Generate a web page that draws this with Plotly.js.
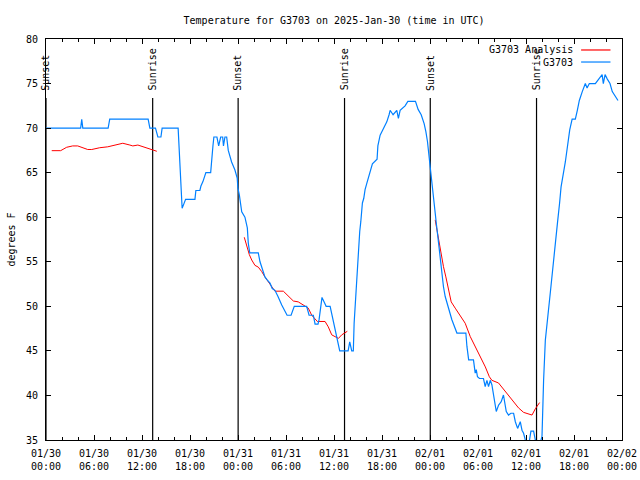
<!DOCTYPE html>
<html>
<head>
<meta charset="utf-8">
<script src="https://cdn.plot.ly/plotly-3.0.1.min.js"></script>
<style>html,body{margin:0;padding:0;background:#fff;}#chart{width:640px;height:480px;}</style>
</head>
<body>
<div id="chart"></div>
<script>
// Observed station temperature (G3703)
const obsTimes = [
"2025-01-30 00:00","2025-01-30 04:20","2025-01-30 04:28","2025-01-30 04:36","2025-01-30 07:46","2025-01-30 07:58",
"2025-01-30 12:46","2025-01-30 12:59","2025-01-30 13:41","2025-01-30 13:59","2025-01-30 14:22","2025-01-30 14:31",
"2025-01-30 16:31","2025-01-30 16:40","2025-01-30 16:52","2025-01-30 17:01","2025-01-30 17:14","2025-01-30 17:27",
"2025-01-30 18:37","2025-01-30 18:44","2025-01-30 19:14","2025-01-30 19:22","2025-01-30 19:37","2025-01-30 19:59",
"2025-01-30 20:35","2025-01-30 20:44","2025-01-30 20:52","2025-01-30 20:59","2025-01-30 21:22","2025-01-30 21:35",
"2025-01-30 21:50","2025-01-30 22:05","2025-01-30 22:11","2025-01-30 22:22","2025-01-30 22:35","2025-01-30 22:47",
"2025-01-30 23:12","2025-01-30 23:37","2025-01-30 23:54","2025-01-30 23:59","2025-01-31 00:10","2025-01-31 00:28",
"2025-01-31 00:52","2025-01-31 01:10","2025-01-31 01:17","2025-01-31 01:28","2025-01-31 02:32","2025-01-31 02:45",
"2025-01-31 03:05","2025-01-31 03:22","2025-01-31 03:37","2025-01-31 04:00","2025-01-31 04:17","2025-01-31 04:37",
"2025-01-31 05:00","2025-01-31 05:28","2025-01-31 06:08","2025-01-31 06:38","2025-01-31 07:02","2025-01-31 08:35",
"2025-01-31 08:53","2025-01-31 09:25","2025-01-31 09:38","2025-01-31 10:00","2025-01-31 10:08","2025-01-31 10:30",
"2025-01-31 10:46","2025-01-31 11:01","2025-01-31 11:31","2025-01-31 11:46","2025-01-31 12:01","2025-01-31 12:16",
"2025-01-31 12:28","2025-01-31 12:43","2025-01-31 13:46","2025-01-31 13:58","2025-01-31 14:13","2025-01-31 14:25",
"2025-01-31 14:31","2025-01-31 14:38","2025-01-31 14:48","2025-01-31 14:55","2025-01-31 15:03","2025-01-31 15:13",
"2025-01-31 15:21","2025-01-31 15:28","2025-01-31 15:33","2025-01-31 15:43","2025-01-31 15:53","2025-01-31 16:06",
"2025-01-31 16:23","2025-01-31 16:38","2025-01-31 16:48","2025-01-31 17:23","2025-01-31 17:29","2025-01-31 17:46",
"2025-01-31 18:11","2025-01-31 18:36","2025-01-31 18:53","2025-01-31 19:01","2025-01-31 19:23","2025-01-31 19:51",
"2025-01-31 20:03","2025-01-31 20:16","2025-01-31 20:53","2025-01-31 21:14","2025-01-31 22:11","2025-01-31 22:31",
"2025-01-31 22:54","2025-01-31 23:16","2025-01-31 23:29","2025-01-31 23:41","2025-01-31 23:56","2025-02-01 00:04",
"2025-02-01 00:11","2025-02-01 00:19","2025-02-01 00:31","2025-02-01 00:41","2025-02-01 00:49","2025-02-01 00:59",
"2025-02-01 01:09","2025-02-01 01:19","2025-02-01 01:31","2025-02-01 01:41","2025-02-01 01:54","2025-02-01 02:14",
"2025-02-01 02:26","2025-02-01 02:44","2025-02-01 03:22","2025-02-01 04:29","2025-02-01 04:37","2025-02-01 04:50",
"2025-02-01 05:26","2025-02-01 05:39","2025-02-01 05:47","2025-02-01 05:56","2025-02-01 06:11","2025-02-01 06:41",
"2025-02-01 06:54","2025-02-01 07:07","2025-02-01 07:19","2025-02-01 07:32","2025-02-01 07:44","2025-02-01 07:56",
"2025-02-01 08:17","2025-02-01 08:34","2025-02-01 08:54","2025-02-01 09:11","2025-02-01 09:32","2025-02-01 09:49",
"2025-02-01 10:07","2025-02-01 10:27","2025-02-01 10:40","2025-02-01 10:57","2025-02-01 11:17","2025-02-01 11:30",
"2025-02-01 11:42","2025-02-01 11:55","2025-02-01 12:19","2025-02-01 12:37","2025-02-01 12:57","2025-02-01 13:10",
"2025-02-01 13:32","2025-02-01 13:47","2025-02-01 14:00","2025-02-01 14:12","2025-02-01 14:25","2025-02-01 15:02",
"2025-02-01 15:27","2025-02-01 15:57","2025-02-01 16:12","2025-02-01 16:23","2025-02-01 16:55","2025-02-01 17:10",
"2025-02-01 17:28","2025-02-01 17:46","2025-02-01 18:10","2025-02-01 18:25","2025-02-01 18:40","2025-02-01 19:02",
"2025-02-01 19:25","2025-02-01 19:38","2025-02-01 19:55","2025-02-01 20:40","2025-02-01 21:31","2025-02-01 21:40",
"2025-02-01 21:53","2025-02-01 22:10","2025-02-01 22:30","2025-02-01 22:47","2025-02-01 23:02","2025-02-01 23:30"
];
const obsTemps = [
70,70,71,70,70,71,
71,70,70,69,69,70,
70,67,64.7,61,61.5,62,
62,63,63,63.5,64,65,
65,67,68,69,69,68,
69,69,68,69,69,67.5,
66.2,65.3,64.4,63.3,62.5,60.6,
60,58.8,57.1,56,56,55,
54.1,53.3,53,52.6,52,51.8,
51.1,50.15,49,49,50,50,
49,49,48,48,48.5,51,
50.5,50,50,49,48,47,
46,45,45,46,45,45,
48.1,50,51.8,53.9,56.3,58.4,
59.5,60.4,61.6,62.1,63.1,63.8,
64.7,65.3,66,66.5,68,69.2,
70,70.7,71.5,72,71.5,72,
71.1,72,72.5,73,73,72.1,
71.5,70.5,69.6,68.5,66.4,65.3,
64.4,63.2,61.6,59.5,59.1,57.8,
56.3,54.8,53.3,52.2,51.1,50,
49.2,48.5,47,47,45.5,44,
44,42.5,42.9,42.1,41.9,41.9,
41,41.7,41,41.7,41.2,40.2,
38.2,38.9,39.3,40.05,38.2,37.8,
38,38,37.05,36.3,37.05,36.1,
35.75,35,34.3,36,36,35,
34.3,34.7,35.4,41.7,46.2,51.5,
55.5,59.5,61.6,63.4,66.2,68.1,
69.8,71,71,72,73.1,74.1,
75,74.5,75,75,76,75,
76,75.5,75,74.1,73.7,73.1
];

// Analysis temperature (G3703 Analysis); null separates the three segments
const anaTimes = [
"2025-01-30 00:43","2025-01-30 01:50","2025-01-30 02:35","2025-01-30 03:20","2025-01-30 03:58","2025-01-30 04:35",
"2025-01-30 05:13","2025-01-30 05:43","2025-01-30 06:43","2025-01-30 07:43","2025-01-30 08:36","2025-01-30 09:36",
"2025-01-30 10:29","2025-01-30 10:51","2025-01-30 11:29","2025-01-30 12:29","2025-01-30 12:58","2025-01-30 13:51",
"2025-01-30 19:00",
"2025-01-31 00:47","2025-01-31 01:05","2025-01-31 01:25","2025-01-31 01:43","2025-01-31 02:07","2025-01-31 02:32",
"2025-01-31 02:58","2025-01-31 03:22","2025-01-31 03:47","2025-01-31 04:13","2025-01-31 04:37","2025-01-31 05:40",
"2025-01-31 06:17","2025-01-31 06:55","2025-01-31 07:32","2025-01-31 08:10","2025-01-31 08:47","2025-01-31 09:13",
"2025-01-31 09:38","2025-01-31 09:55","2025-01-31 10:53","2025-01-31 11:17","2025-01-31 11:43","2025-01-31 12:33",
"2025-01-31 12:58","2025-01-31 13:40",
"2025-01-31 19:00",
"2025-02-01 00:39","2025-02-01 00:52","2025-02-01 01:04","2025-02-01 01:22","2025-02-01 01:41","2025-02-01 01:59",
"2025-02-01 02:19","2025-02-01 02:39","2025-02-01 03:09","2025-02-01 03:47","2025-02-01 04:24","2025-02-01 05:02",
"2025-02-01 05:40","2025-02-01 06:17","2025-02-01 06:55","2025-02-01 07:25","2025-02-01 07:44","2025-02-01 08:34",
"2025-02-01 09:12","2025-02-01 09:49","2025-02-01 10:27","2025-02-01 11:04","2025-02-01 11:42","2025-02-01 12:20",
"2025-02-01 12:45","2025-02-01 13:10","2025-02-01 13:42"
];
const anaTemps = [
67.47,67.47,67.85,68.0,68.0,67.8,
67.6,67.6,67.8,67.9,68.1,68.3,
68.1,68.0,68.1,67.8,67.6,67.4,
null,
57.75,56.7,55.8,55.2,54.6,54.4,
53.9,53.3,52.8,52.2,51.7,51.7,
51.1,50.6,50.5,50.15,49.8,49.0,
48.5,48.3,48.3,47.7,46.8,46.4,
46.8,47.2,
null,
59.7,58.6,57.45,56.0,54.45,53.3,
51.8,50.5,49.8,49.0,48.1,46.6,
45.5,44.4,43.2,42.1,41.7,41.4,
40.7,40.0,39.3,38.6,38.1,37.9,
37.8,38.5,39.2
];

// Sun events
const sunTimes = ["2025-01-30 00:00","2025-01-30 13:20","2025-01-31 00:01","2025-01-31 13:19","2025-02-01 00:02","2025-02-01 13:19"];
const sunLabels = ["Sunset","Sunrise","Sunset","Sunrise","Sunset","Sunrise"];

// Axis ticks
const xTickVals = ["2025-01-30 00:00","2025-01-30 06:00","2025-01-30 12:00","2025-01-30 18:00","2025-01-31 00:00","2025-01-31 06:00","2025-01-31 12:00","2025-01-31 18:00","2025-02-01 00:00","2025-02-01 06:00","2025-02-01 12:00","2025-02-01 18:00","2025-02-02 00:00"];
const xTickText = ["01/30<br>00:00","01/30<br>06:00","01/30<br>12:00","01/30<br>18:00","01/31<br>00:00","01/31<br>06:00","01/31<br>12:00","01/31<br>18:00","02/01<br>00:00","02/01<br>06:00","02/01<br>12:00","02/01<br>18:00","02/02<br>00:00"];
const yTickVals = [35,40,45,50,55,60,65,70,75,80];

const seriesNames = ["G3703 Analysis","G3703"];
const seriesColors = ["#ff0000","#0080ff"];

const FONT = "DejaVu Sans Mono, Liberation Mono, monospace";

const traces = [
  {x: anaTimes, y: anaTemps, type: "scatter", mode: "lines", name: seriesNames[0],
   line: {color: seriesColors[0], width: 1}, connectgaps: false, showlegend: false},
  {x: obsTimes, y: obsTemps, type: "scatter", mode: "lines", name: seriesNames[1],
   line: {color: seriesColors[1], width: 1.2}, showlegend: false}
];

const shapes = [];
const annotations = [];
sunTimes.forEach((t, i) => {
  shapes.push({type: "line", xref: "x", yref: "paper", x0: t, x1: t, y0: 0, y1: 0.853,
               line: {color: "#000", width: 1.2}, layer: "below"});
  annotations.push({xref: "x", yref: "paper", x: t, y: 0.866, text: sunLabels[i], textangle: -90,
                    showarrow: false, xanchor: "center", yanchor: "bottom",
                    font: {family: FONT, size: 10, color: "#000"}});
});
// legend (text left of line sample)
const legY = [0.9726, 0.9426];
seriesNames.forEach((n, i) => {
  annotations.push({xref: "paper", yref: "paper", x: 0.918, y: legY[i], text: n, showarrow: false,
                    xanchor: "right", yanchor: "middle", font: {family: FONT, size: 10, color: "#000"}});
  shapes.push({type: "line", xref: "paper", yref: "paper", x0: 0.929, x1: 0.980, y0: legY[i], y1: legY[i],
               line: {color: seriesColors[i], width: 1.2}});
});

const layout = {
  width: 640, height: 480,
  margin: {l: 46, r: 18, t: 39, b: 40, pad: 0},
  paper_bgcolor: "#fff", plot_bgcolor: "#fff",
  font: {family: FONT, size: 10, color: "#000"},
  title: {text: "Temperature for G3703 on 2025-Jan-30 (time in UTC)", x: 0.522, xanchor: "center", y: 0.958, yanchor: "middle",
          font: {family: FONT, size: 10, color: "#000"}},
  xaxis: {type: "date", range: ["2025-01-30 00:00", "2025-02-02 00:00"],
          tickmode: "array", tickvals: xTickVals, ticktext: xTickText,
          ticks: "inside", ticklen: 5, tickcolor: "#000", tickwidth: 1,
          minor: {dtick: 7200000, ticks: "inside", ticklen: 3, tickcolor: "#000", tickwidth: 1, showgrid: false},
          showline: true, linecolor: "#000", linewidth: 1, mirror: "ticks", showgrid: false, zeroline: false,
          tickfont: {family: FONT, size: 10, color: "#000"}, ticklabelstandoff: 4, fixedrange: true},
  yaxis: {range: [35, 80], tickmode: "array", tickvals: yTickVals,
          ticks: "inside", ticklen: 5, tickcolor: "#000", tickwidth: 1,
          showline: true, linecolor: "#000", linewidth: 1, mirror: "ticks", showgrid: false, zeroline: false,
          tickfont: {family: FONT, size: 10, color: "#000"}, ticklabelstandoff: 5,
          title: {text: "degrees F", standoff: 8, font: {family: FONT, size: 10, color: "#000"}}, fixedrange: true},
  shapes: shapes,
  annotations: annotations,
  showlegend: false
};

Plotly.newPlot("chart", traces, layout, {displayModeBar: false, staticPlot: true});
</script>
</body>
</html>
